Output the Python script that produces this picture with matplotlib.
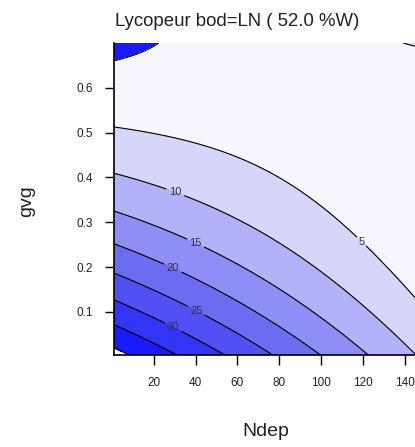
import numpy as np
import matplotlib
matplotlib.use("Agg")
import matplotlib.pyplot as plt

plt.rcParams['font.family'] = ['Liberation Sans', 'DejaVu Sans']

# fitted response surface: lycopene vs N deposition (Ndep) and gvg
# z = b0 + b_ndep*x + b_gvg*y + b_gvg2*y^2 + b_int*x*y
b0 = 42.22
b_ndep = -0.2204
b_gvg = -102.28
b_gvg2 = 58.0
b_int = 0.376

ndep_range = [1, 144.8]
gvg_range = [0.004, 0.70]

levels = [-5, 0, 5, 10, 15, 20, 25, 30, 35, 40]
band_colors = ['#1a1aff', '#f6f6ff', '#d6d6fb', '#b2b2f8', '#8e8ef6',
               '#6c6cf2', '#5050f4', '#3434f6', '#1a1aff']
plain_levels = [0, 35, 40]
label_levels = [5, 10, 15, 20, 25, 30]
label_pos = [(119, 0.256), (30, 0.363), (40, 0.254), (29, 0.196),
             (40, 0.100), (29, 0.064)]

xticks = [20, 40, 60, 80, 100, 120, 140]
yticks = [0.1, 0.2, 0.3, 0.4, 0.5, 0.6]

x = np.linspace(ndep_range[0], 150, 400)
y = np.linspace(0, gvg_range[1], 400)
X, Y = np.meshgrid(x, y)
Z = b0 + b_ndep * X + b_gvg * Y + b_gvg2 * Y ** 2 + b_int * X * Y

W, H = 415, 447
fig = plt.figure(figsize=(W / 100, H / 100), dpi=100)
ax = fig.add_axes([114 / W, (H - 355) / H, 1 - 114 / W, (355 - 43) / H])

ax.contourf(X, Y, Z, levels=levels, colors=band_colors)
ax.contour(X, Y, Z, levels=plain_levels, colors='black', linewidths=0.8)
cs = ax.contour(X, Y, Z, levels=label_levels, colors='black', linewidths=0.8)
labels = ax.clabel(cs, inline=True, inline_spacing=3, fontsize=8, fmt='%d',
                   manual=label_pos, colors='#333333')
for t in labels:
    t.set_rotation(0)

ax.set_xlim(*ndep_range)
ax.set_ylim(*gvg_range)
ax.set_xticks(xticks)
ax.set_yticks(yticks)
ax.set_xticklabels([str(v) for v in xticks])
ax.set_yticklabels(['%.1f' % v for v in yticks])
ax.tick_params(direction='out', length=6.5, width=1, labelsize=8.5,
               pad=8.5, colors='black', labelcolor='#222222')
ax.tick_params(axis='x', length=7.2, pad=8.5)
for side in ['top', 'right']:
    ax.spines[side].set_visible(False)
for side in ['left', 'bottom']:
    ax.spines[side].set_linewidth(1.2)

fig.text(237 / W, 1 - 21 / H, 'Lycopeur bod=LN ( 52.0 %W)', ha='center',
         va='center', fontsize=13.4, color='#222222')
fig.text(266 / W, 1 - 432 / H, 'Ndep', ha='center', va='center',
         fontsize=14, color='#222222')
fig.text(27 / W, 1 - 201 / H, 'gvg', ha='center', va='center',
         rotation=90, fontsize=14, color='#222222')

fig.savefig('out.png', dpi=100)
